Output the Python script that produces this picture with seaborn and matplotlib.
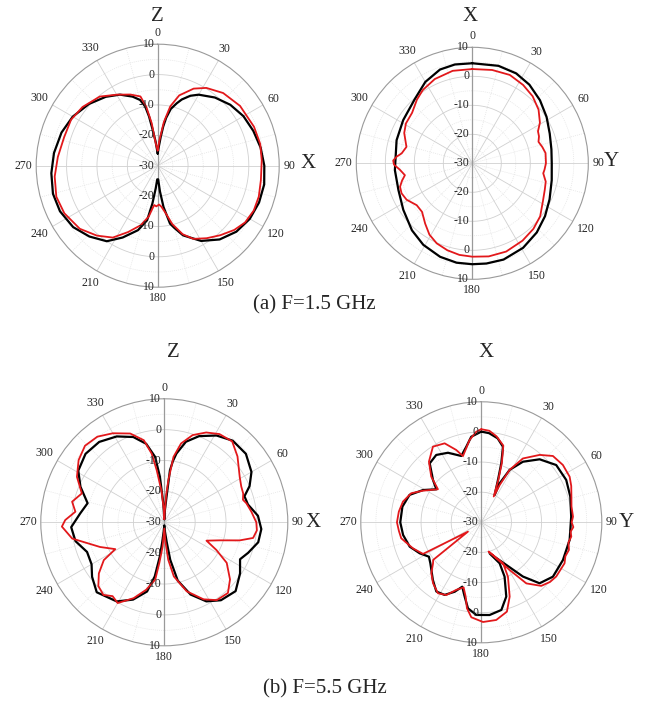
import numpy as np
import pandas as pd
import matplotlib
matplotlib.use("Agg")
import matplotlib.pyplot as plt
import seaborn as sns

# ---------------- radiation pattern data (angle in degrees, gain in dB) ----------------
# (a) 1.5 GHz, XZ cut
p1_black_deg = [0, 3, 6, 8, 10, 13, 17, 20, 25, 30, 40, 50, 60, 70, 80, 90, 100, 110, 120, 130,
                140, 150, 160, 165, 168, 172, 175, 178, 182, 185, 188, 191, 197, 206, 214, 224,
                234, 245, 255, 266, 277, 289, 300, 312, 323, 332, 340, 345, 348, 350, 352, 355, 358]
p1_black_db = [-26, -24, -20.5, -17, -14, -10.8, -8.5, -6.8, -4.6, -3.0, -0.7, 1.2, 2.6, 3.5, 4.4,
               5.1, 5.6, 5.5, 5.0, 3.8, 1.7, -1.4, -5.6, -8.8, -10.5, -16.3, -21.5, -25.5, -25.5,
               -22.5, -17.4, -11.7, -7.8, -3.7, 0.0, 2.4, 4.4, 5.5, 5.7, 5.1, 4.4, 3.5, 2.3, 0.4,
               -1.6, -3.5, -5.8, -7.6, -10.0, -13.5, -18.0, -22.0, -25.0]
p1_red_deg = [0, 4, 8, 12, 17, 25, 32, 42, 54, 68, 78, 87, 98, 107, 115, 123, 130, 138, 146, 154,
              160, 166, 171, 175, 178, 182, 185, 187, 190, 196, 204, 212, 221, 231, 243, 253, 264,
              275, 287, 298, 308, 320, 330, 339, 346, 349, 352, 354, 357]
p1_red_db = [-25, -21.5, -15.5, -10, -5.8, -2.0, 0.2, 2.2, 3.5, 4.2, 4.5, 4.3, 4.3, 4.8, 4.9, 4.3,
             2.9, 0.8, -1.2, -3.2, -6.0, -10.2, -14.5, -16.5, -17.2, -16.6, -17.0, -15.8, -13.0,
             -9.6, -6.1, -2.1, 0.5, 3.0, 4.5, 4.9, 4.1, 3.0, 2.2, 2.3, 1.4, -0.3, -3.0, -4.9,
             -6.5, -10.2, -15.9, -21.5, -24]

# (a) 1.5 GHz, XY cut
p2_black_deg = [0, 15, 26, 36, 47, 58, 69, 80, 90, 102, 115, 126, 137, 149, 162, 172, 180, 189,
                199, 211, 222, 236, 250, 265, 287, 302, 318, 330, 341, 350]
p2_black_db = [4.5, 4.8, 4.5, 3.5, 1.9, 0.2, -1.4, -2.3, -2.6, -2.0, -0.6, 1.0, 2.6, 4.0, 4.9,
               4.9, 4.8, 4.7, 4.1, 2.8, 1.1, -1.3, -2.9, -3.2, -2.7, -1.9, -0.3, 2.4, 4.2, 4.6]
p2_red_deg = [0, 12, 23, 33, 42, 51, 59, 64, 68, 72, 77, 82, 90, 95, 98, 104, 110, 118, 128, 137,
              147, 159, 170, 180, 188, 196, 204, 211, 218, 226, 233, 241, 247, 252, 256, 260, 265,
              269, 272, 275, 278, 284, 294, 301, 310, 319, 326, 336, 348]
p2_red_db = [2.5, 2.9, 3.1, 2.2, 1.1, -0.6, -2.8, -4.8, -5.2, -6.0, -5.2, -4.5, -4.6, -5.0, -5.3,
             -3.9, -3.4, -2.4, -0.3, 0.9, 1.8, 2.6, 2.6, 2.2, 1.9, 1.2, 0.2, -1.3, -3.6, -5.9,
             -6.0, -4.1, -3.5, -3.8, -5.0, -6.4, -4.9, -3.0, -2.7, -3.8, -5.4, -6.6, -4.3, -3.3,
             -2.9, -0.9, 0.5, 1.8, 2.6]

# (b) 5.5 GHz, XZ cut
p3_black_deg = [0, 3, 5, 6.2, 8, 10, 15, 22, 31, 40, 50, 60, 67, 72, 78, 86, 94, 102, 110, 116,
                124, 134, 144, 152, 160, 167, 171, 173, 176, 180, 184, 186, 187.5, 190, 194, 202,
                211, 224, 233, 240, 249, 258, 267, 276, 284, 293, 301, 311, 321, 331, 340, 347,
                352, 354.5, 357]
p3_black_db = [-29, -26, -21.7, -13.0, -10.0, -7.4, -3.0, 0.1, 2.8, 4.5, 4.5, 2.6, 0.0, -2.7, -2.3,
               0.4, 1.5, 1.1, -1.1, -2.7, -0.4, 2.1, 1.2, -1.0, -5.1, -10.6, -17.7, -23.5, -27,
               -29, -27, -23.5, -18.8, -12.2, -6.9, -3.0, -0.1, 1.5, -0.7, -2.8, -3.2, -0.6, 0.2,
               -2.6, -4.4, -0.5, 2.5, 3.8, 3.5, 1.8, -0.6, -3.9, -8.6, -15.2, -23.9]
p3_red_deg = [0, 2, 4, 5.5, 8, 12, 18, 25, 32, 40, 48, 59, 65, 70, 74, 77, 83, 90, 95, 100, 103.5,
              108, 113.5, 118, 123, 131, 138, 146, 153, 162, 170, 174, 177, 180, 184, 187, 189,
              195, 202, 210, 215, 220, 226, 232, 238, 241.3, 249, 260, 267.6, 271.3, 276.8,
              282.6, 289.3, 297.5, 306, 314, 322, 330, 339, 346, 349.6, 351.7, 355, 358]
p3_red_db = [-29, -27, -21, -16.3, -8.6, -3.9, -0.3, 2.1, 3.7, 4.2, 1.9, -1.5, -2.5, -2.8, -3.5,
             -2.7, -1.6, -0.2, 0.1, -0.8, -4.9, -11.1, -15.1, -10.9, -5.9, -1.8, 0.8, 0.4, -2.0,
             -6.5, -12.2, -17.8, -24, -28, -22.1, -16.7, -11.2, -7.4, -3.5, 0.2, -0.8, 0.7, -0.3,
             -3.1, -6.9, -11.9, -7.7, 0.3, 3.2, 2.1, -1.0, 0.6, -1.7, 1.9, 4.3, 5.7, 5.2, 3.3,
             0.8, -2.6, -7.4, -12.9, -20, -26]

# (b) 5.5 GHz, XY cut (points listed in trace order)
p4_black_deg = [0, 5, 11, 16, 18.7, 21.5, 26, 25.2, 28.4, 34.5, 42.8, 52.6, 63.5, 73.9, 86.4,
                101.3, 114.8, 127.2, 136.3, 142.5, 149.6, 165, 155.9, 156.8, 161.4, 167.1, 174.9,
                183.1, 188.8, 192.6, 196.5, 201, 206.8, 213, 220, 231.2, 236.7, 243.3, 251.2,
                260.8, 270, 281.2, 290.9, 299, 306.3, 311.2, 318.8, 326.2, 334.4, 343.2, 348.8, 353.3]
p4_black_db = [0.1, -0.3, -1.6, -3.9, -9.3, -14.9, -19.9, -15.7, -10.2, -5.6, -1.5, 1.3, 1.5, 0.75,
               -0.1, -0.1, -0.15, -0.15, -2.0, -7.3, -13.6, -19.3, -15.1, -10.4, -4.0, -0.15, 0.9,
               0.8, -1.1, -4.7, -7.7, -5.3, -3.0, -2.6, -5.0, -8.3, -9.2, -7.1, -4.9, -3.7, -3.1,
               -3.3, -4.5, -7.9, -11.5, -8.7, -4.0, -3.1, -4.4, -7.0, -4.4, -1.4]
p4_red_deg = [0, 5, 10, 16, 19, 22, 25.7, 26.2, 28.4, 33.1, 40.9, 47.2, 54.9, 62.7, 68, 74.1, 80,
              86.5, 90, 93, 96, 99, 103, 107.5, 112, 116.2, 125.9, 131, 136.7, 143.6, 149.3, 166,
              152, 153.9, 159.1, 164, 171.3, 179, 186, 189.5, 191.9, 195.2, 200.3, 205.7, 211.4,
              218.4, 224.4, 229.7, 232, 235, 241.5, 249.2, 258.7, 264, 270, 277.4, 284.8, 292.5,
              298.5, 307.3, 312.4, 319.2, 327.4, 335.1, 340.9, 344.5, 351.9, 356.8]
p4_red_db = [0.9, 0.5, -1.0, -3.5, -9.0, -15.0, -20.5, -16.2, -10.2, -4.7, -0.4, 2.4, 3.1, 3.0, 2.2,
             1.1, 0.4, 0.5, 0.0, 0.6, -0.2, 0.25, -0.3, 0.5, 0.1, 0.8, 0.7, 0.2, -1.0, -4.8,
             -11.6, -20.0, -14.6, -9.9, -3.6, 0.85, 2.8, 3.1, 1.7, -1.1, -4.8, -7.6, -6.1, -3.2,
             -2.4, -4.2, -6.3, -9.0, -9.7, -24.6, -8.0, -5.7, -2.9, -2.5, -2.0, -2.4, -3.1, -4.8,
             -8.0, -11.9, -7.5, -3.4, -0.2, -1.1, -4.6, -7.2, -2.4, 0.1]

# ---------------- axis scales and labels ----------------
R_MIN, R_MAX = -30, 10
ring_major = [-20, -10, 0]
ring_minor = [-25, -15, -5, 5]
angle_ticks = list(range(0, 360, 30))
angle_minor = list(range(15, 360, 30))
r_labels_up = [10, 0, -10, -20, -30]
r_labels_down = [-20, -10, 0, 10]
captions = ["(a) F=1.5 GHz", "(b) F=5.5 GHz"]

BLACK = "#000000"
RED = "#e2181b"
GRID = "#d0d0d0"
GRID_MINOR = "#e4e4e4"
RIM = "#9a9a9a"

sns.set_style("white")
plt.rcParams["font.family"] = ["Liberation Serif", "DejaVu Serif"]

FIG_W, FIG_H, DPI = 646, 701, 100
fig = plt.figure(figsize=(FIG_W / DPI, FIG_H / DPI), dpi=DPI)
fig.patch.set_facecolor("white")


def pattern_frame(deg, db):
    theta = np.deg2rad(np.r_[deg, deg[0] + 360.0])
    gain = np.r_[db, db[0]]
    return pd.DataFrame({"theta": theta, "gain": gain})


panels = [
    dict(cx=157.7, cy=165.7, R=121.5, black=(p1_black_deg, p1_black_db),
         red=(p1_red_deg, p1_red_db), top=("Z", 157.5, 16.5), side=("X", 308.5, 163.0)),
    dict(cx=472.3, cy=163.3, R=116.0, black=(p2_black_deg, p2_black_db),
         red=(p2_red_deg, p2_red_db), top=("X", 470.3, 16.5), side=("Y", 611.3, 161.0)),
    dict(cx=164.3, cy=522.3, R=123.5, black=(p3_black_deg, p3_black_db),
         red=(p3_red_deg, p3_red_db), top=("Z", 173.3, 352.7), side=("X", 313.3, 522.3)),
    dict(cx=481.3, cy=522.3, R=120.5, black=(p4_black_deg, p4_black_db),
         red=(p4_red_deg, p4_red_db), top=("X", 486.3, 352.7), side=("Y", 626.3, 522.3)),
]

full_circle = np.linspace(0, 2 * np.pi, 721)

for p in panels:
    cx, cy, R = p["cx"], p["cy"], p["R"]
    ax = fig.add_axes([(cx - R) / FIG_W, 1 - (cy + R) / FIG_H, 2 * R / FIG_W, 2 * R / FIG_H],
                      projection="polar")
    ax.set_theta_zero_location("N")
    ax.set_theta_direction(-1)
    ax.set_xticks([])
    ax.set_yticks([])
    ax.grid(False)
    ax.set_facecolor("none")
    ax.spines["polar"].set_color(RIM)
    ax.spines["polar"].set_linewidth(0.8)

    # grid: dotted minor rings/spokes, solid major rings/spokes
    for v in ring_minor:
        ax.plot(full_circle, np.full_like(full_circle, v), color=GRID_MINOR, lw=0.5,
                ls=(0, (1.5, 1.5)), zorder=1)
    for v in ring_major:
        ax.plot(full_circle, np.full_like(full_circle, v), color=GRID, lw=0.6, zorder=1)
    for a in angle_minor:
        t = np.deg2rad(a)
        ax.plot([t, t], [R_MIN, R_MAX], color=GRID_MINOR, lw=0.5, ls=(0, (1.5, 1.5)), zorder=1)
    for a in angle_ticks:
        t = np.deg2rad(a)
        if a % 180 == 0:
            ax.plot([t, t], [R_MIN, R_MAX], color=RIM, lw=0.9, zorder=1.5)
        else:
            ax.plot([t, t], [R_MIN, R_MAX], color=GRID, lw=0.6, zorder=1)

    # simulated (black) and measured (red) patterns
    sns.lineplot(data=pattern_frame(*p["black"]), x="theta", y="gain", sort=False,
                 estimator=None, color=BLACK, lw=1.6, ax=ax, zorder=3)
    sns.lineplot(data=pattern_frame(*p["red"]), x="theta", y="gain", sort=False,
                 estimator=None, color=RED, lw=1.3, ax=ax, zorder=4)
    ax.set_xlabel("")
    ax.set_ylabel("")
    ax.set_ylim(R_MIN, R_MAX)

    # radial scale labels along the 0 and 180 degree axis
    for v in r_labels_up:
        ax.annotate(str(v), xy=(0, v), xytext=(-3, 0), textcoords="offset pixels",
                    ha="right", va="center", fontsize=8.5, annotation_clip=False, zorder=5)
    for v in r_labels_down:
        ax.annotate(str(v), xy=(np.pi, v), xytext=(-3, 0), textcoords="offset pixels",
                    ha="right", va="center", fontsize=8.5, annotation_clip=False, zorder=5)

    # angle labels around the rim
    for a in angle_ticks:
        t = np.deg2rad(a)
        s, c = np.sin(t), np.cos(t)
        lab = str(a)
        off = 5 + 6 * abs(c) + 2.6 * len(lab) * abs(s)
        ax.annotate(lab, xy=(t, R_MAX), xytext=(off * s, off * c), textcoords="offset pixels",
                    ha="center", va="center", fontsize=8.5, annotation_clip=False)

    for letter, x, y in (p["top"], p["side"]):
        fig.text(x / FIG_W, 1 - y / FIG_H, letter, ha="center", va="center", fontsize=15)

fig.text(314 / FIG_W, 1 - 305 / FIG_H, captions[0], ha="center", va="center", fontsize=15)
fig.text(325 / FIG_W, 1 - 689 / FIG_H, captions[1], ha="center", va="center", fontsize=15)

fig.savefig("out.png", dpi=DPI, facecolor="white")
